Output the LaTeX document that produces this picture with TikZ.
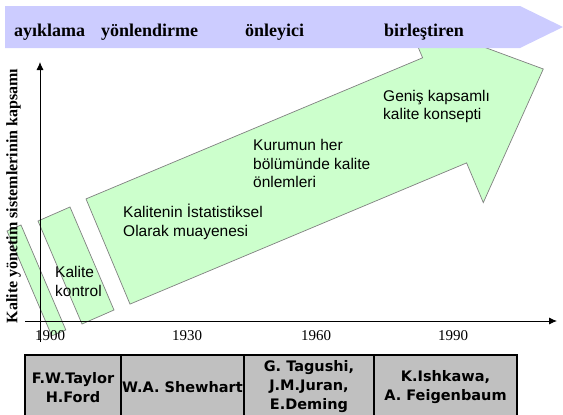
\documentclass[tikz,border=0pt]{standalone}
\usepackage{fontspec}
\setmainfont{Liberation Serif}
\newfontfamily\arialf{Liberation Sans}
\newfontfamily\tabf{DejaVu Sans}
\usetikzlibrary{arrows.meta}
\definecolor{stagegreen}{HTML}{CCFFCC}
\definecolor{stageedge}{HTML}{808080}
\definecolor{bannerblue}{HTML}{CCCCFF}
\definecolor{cellgray}{HTML}{C0C0C0}
\tikzset{
  stage/.style={fill=stagegreen, draw=stageedge, line width=0.7pt, line join=miter},
  stagetext/.style={font=\arialf\fontsize{15.5}{18.5}\selectfont, align=left, inner sep=0pt, anchor=west},
  axisline/.style={draw=black, line width=0.9pt, -{Latex[length=8pt,width=7pt]}},
  yearlabel/.style={font=\fontsize{15}{18}\selectfont, inner sep=0pt, anchor=base},
  phase/.style={font=\bfseries\fontsize{18}{21}\selectfont, inner sep=0pt, anchor=base west},
  cell/.style={draw=black, line width=2pt, fill=cellgray},
  celltext/.style={font=\tabf\bfseries\fontsize{14.5}{19}\selectfont, align=center, inner sep=0pt}
}
\begin{document}
\begin{tikzpicture}[x=1pt,y=-1pt]
\useasboundingbox (0,0) rectangle (563,415);
\clip (0,0) rectangle (563,415);

% stages of quality systems
\draw[stage] (7,231) -- (21,225) -- (65.8,329.9) -- (51.8,335.9) -- cycle;
\draw[stage] (38,221) -- (70,207) -- (114,310) -- (82,324) -- cycle;
\draw[stage] (86,198.9) -- (422.6,57.8) -- (405.9,18.2) -- (543.3,69) -- (483.3,202.6) -- (466.6,162.9) -- (130,304.1) -- cycle;

% axes
\coordinate (yfoot) at (40,342);
\coordinate (ytop) at (40,62);
\coordinate (xfoot) at (25,321);
\coordinate (xend) at (557,321);
\draw[axisline] (yfoot) -- (ytop);
\draw[axisline] (xfoot) -- (xend);

% stage captions
\node[stagetext] (kk) at (55,281.5) {Kalite\\kontrol};
\node[stagetext] (ist) at (123,222) {Kalitenin İstatistiksel\\Olarak muayenesi};
\node[stagetext] (kur) at (253,163.5) {Kurumun her\\bölümünde kalite\\önlemleri};
\node[stagetext] (gen) at (383,106.5) {Geniş kapsamlı\\kalite konsepti};

% axis labels
\node[font=\bfseries\fontsize{16}{19}\selectfont, rotate=90, inner sep=0pt] (ylab) at (13.5,196) {Kalite yönetim sistemlerinin kapsamı};
\node[yearlabel] (y1900) at (50,340) {1900};
\node[yearlabel] (y1930) at (187,340) {1930};
\node[yearlabel] (y1960) at (316,340) {1960};
\node[yearlabel] (y1990) at (453,340) {1990};

% phase banner
\fill[bannerblue] (5,6) -- (520,6) -- (563,27) -- (520,48) -- (5,48) -- cycle;
\node[phase] (p1) at (14,36) {ayıklama};
\node[phase] (p2) at (101,36) {yönlendirme};
\node[phase] (p3) at (245,36) {önleyici};
\node[phase] (p4) at (384,36) {birleştiren};

% pioneers table
\draw[cell] (25,355) rectangle (121,420);
\draw[cell] (121,355) rectangle (244,420);
\draw[cell] (244,355) rectangle (374,420);
\draw[cell] (374,355) rectangle (517,420);
\node[celltext] (c1) at (73,387.5) {F.W.Taylor\\H.Ford};
\node[celltext] (c2) at (182.5,387) {W.A. Shewhart};
\node[celltext] (c3) at (309,386.5) {G. Tagushi,\\J.M.Juran,\\E.Deming};
\node[celltext] (c4) at (445.5,387.5) {K.Ishkawa,\\A. Feigenbaum};
\end{tikzpicture}
\end{document}
